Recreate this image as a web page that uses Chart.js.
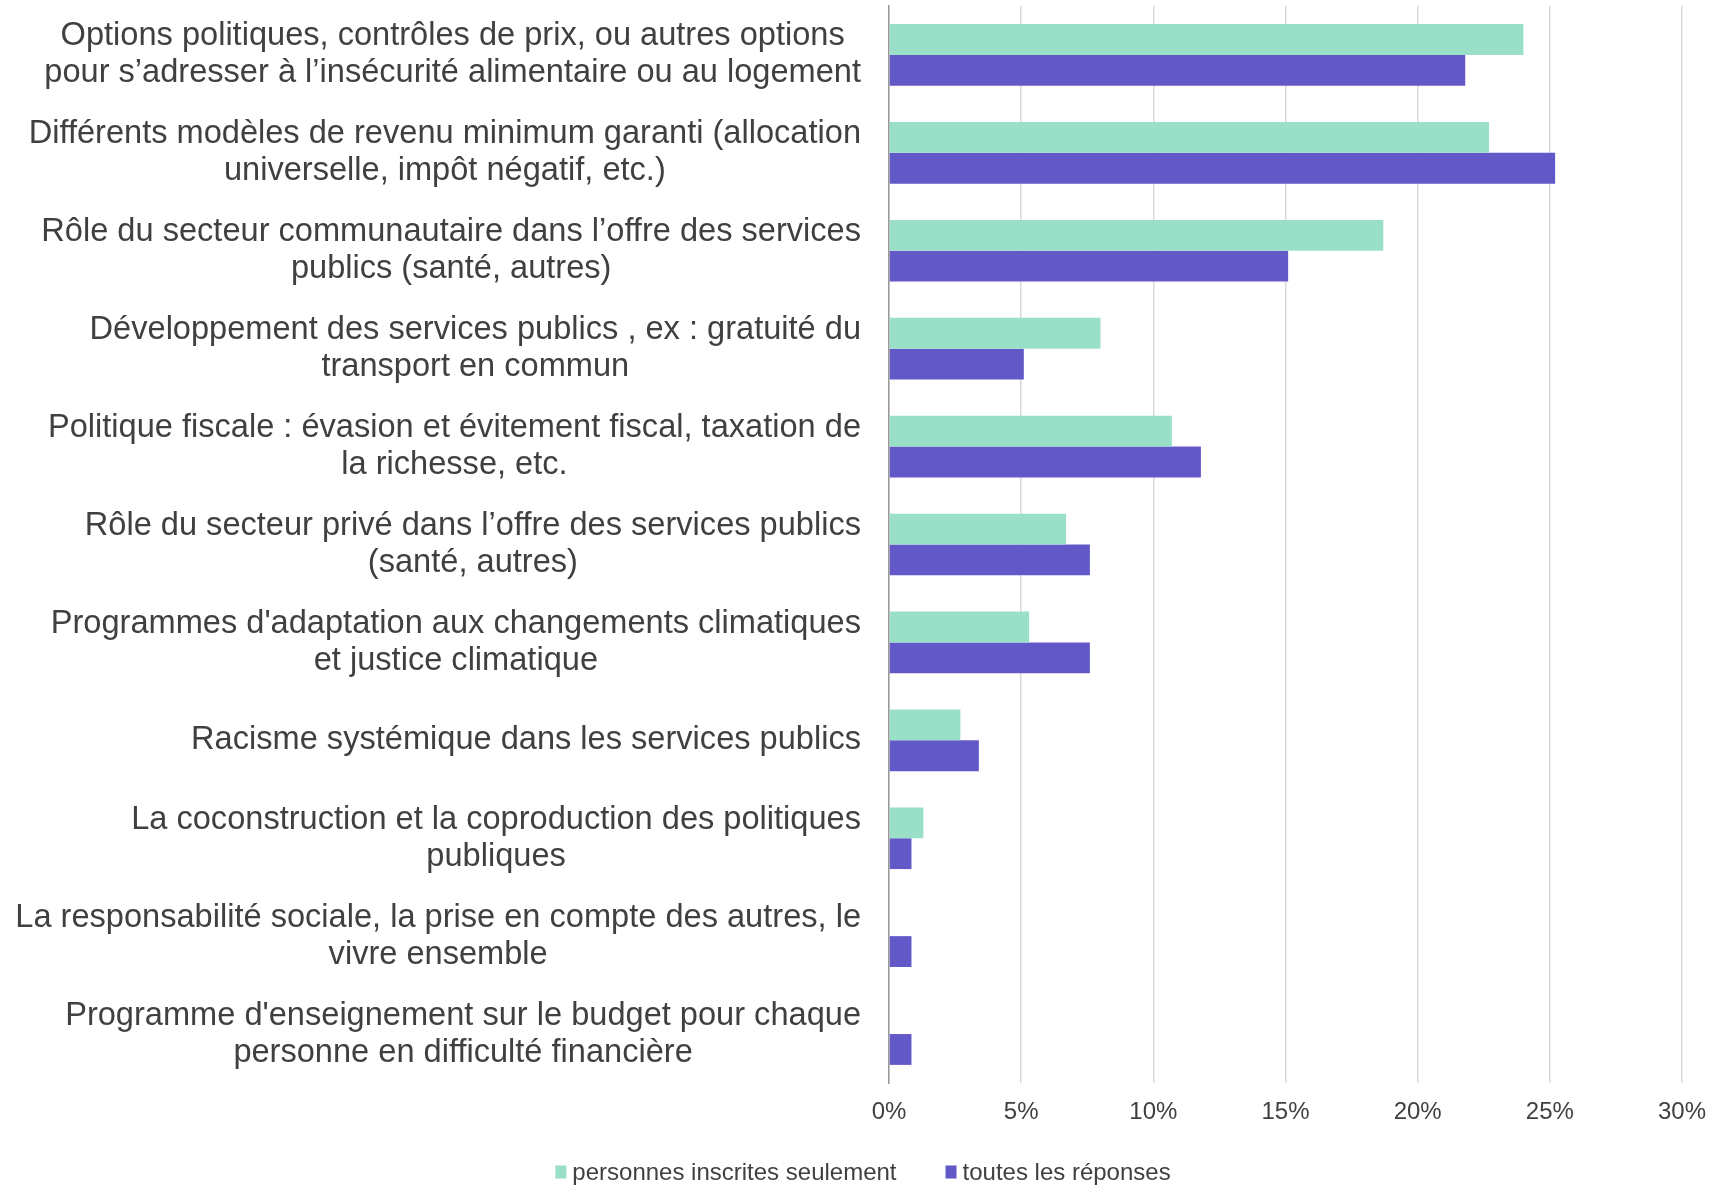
<!DOCTYPE html>
<html lang="fr">
<head>
<meta charset="utf-8">
<title>Priorités</title>
<script src="https://cdn.jsdelivr.net/npm/chart.js@4.4.1/dist/chart.umd.min.js"></script>
<style>
  html, body { margin: 0; padding: 0; background: #fff; }
  #wrap { width: 1736px; height: 1186px; }
</style>
</head>
<body>
<div id="wrap"><canvas id="prioritesChart" width="1736" height="1186"></canvas></div>
<script>
// Catégories (une ligne de texte par élément)
const categories = [
  ["Options politiques, contrôles de prix, ou autres options", "pour s’adresser à l’insécurité alimentaire ou au logement"],
  ["Différents modèles de revenu minimum garanti (allocation", "universelle, impôt négatif, etc.)"],
  ["Rôle du secteur communautaire dans l’offre des services", "publics (santé, autres)"],
  ["Développement des services publics , ex : gratuité du", "transport en commun"],
  ["Politique fiscale : évasion et évitement fiscal, taxation de", "la richesse, etc."],
  ["Rôle du secteur privé dans l’offre des services publics", "(santé, autres)"],
  ["Programmes d'adaptation aux changements climatiques", "et justice climatique"],
  ["Racisme systémique dans les services publics"],
  ["La coconstruction et la coproduction des politiques", "publiques"],
  ["La responsabilité sociale, la prise en compte des autres, le", "vivre ensemble"],
  ["Programme d'enseignement sur le budget pour chaque", "personne en difficulté financière"]
];

// Pourcentages
const inscritesSeulement = [24.0, 22.7, 18.7, 8.0, 10.7, 6.7, 5.3, 2.7, 1.3, 0, 0];
const toutesReponses = [21.8, 25.2, 15.1, 5.1, 11.8, 7.6, 7.6, 3.4, 0.85, 0.85, 0.85];

const seriesLabels = ["personnes inscrites seulement", "toutes les réponses"];
const xTicks = [0, 5, 10, 15, 20, 25, 30];

const GREEN = 'rgb(154, 223, 200)';
const PURPLE = 'rgb(98, 88, 200)';
const TEXT = '#404040';
const FONT = '"Liberation Sans", Arial, Helvetica, sans-serif';

// étiquettes de catégories : bloc aligné à droite, lignes centrées entre elles
const categoryLabels = {
  id: 'categoryLabels',
  afterDraw(chart) {
    const ctx = chart.ctx;
    const yScale = chart.scales.y;
    const right = chart.chartArea.left - 28;
    const lineH = 37;
    ctx.save();
    ctx.font = '32.6px ' + FONT;
    ctx.fillStyle = TEXT;
    ctx.textAlign = 'center';
    ctx.textBaseline = 'middle';
    categories.forEach((lines, i) => {
      const y = yScale.getPixelForValue(i);
      const maxW = Math.max(...lines.map(l => ctx.measureText(l).width));
      const cx = right - maxW / 2;
      const y0 = y - (lines.length - 1) * lineH / 2;
      lines.forEach((l, k) => ctx.fillText(l, cx, y0 + k * lineH));
    });
    ctx.restore();
  }
};

// légende en bas
const bottomLegend = {
  id: 'bottomLegend',
  afterDraw(chart) {
    const ctx = chart.ctx;
    const y = 1172;
    const boxW = 11, boxH = 13, gap = 6, between = 49;
    ctx.save();
    ctx.font = '24px ' + FONT;
    ctx.textBaseline = 'middle';
    ctx.textAlign = 'left';
    const items = chart.data.datasets.map(ds => ({
      text: ds.label,
      color: ds.backgroundColor,
      w: ctx.measureText(ds.label).width
    }));
    const total = items.reduce((s, it) => s + boxW + gap + it.w, 0) + between * (items.length - 1);
    let x = chart.width / 2 - total / 2 - 5;
    items.forEach(it => {
      ctx.fillStyle = it.color;
      ctx.fillRect(x, y - boxH / 2, boxW, boxH);
      x += boxW + gap;
      ctx.fillStyle = TEXT;
      ctx.fillText(it.text, x, y + 1);
      x += it.w + between;
    });
    ctx.restore();
  }
};

function initPrioritesChart() {
  const ctx = document.getElementById('prioritesChart').getContext('2d');

  new Chart(ctx, {
    type: 'bar',
    data: {
      labels: categories.map(c => c.join(' ')),
      datasets: [{
        label: seriesLabels[0],
        data: inscritesSeulement,
        backgroundColor: GREEN,
        borderWidth: 0,
        categoryPercentage: 0.63,
        barPercentage: 1.0
      }, {
        label: seriesLabels[1],
        data: toutesReponses,
        backgroundColor: PURPLE,
        borderWidth: 0,
        categoryPercentage: 0.63,
        barPercentage: 1.0
      }]
    },
    options: {
      indexAxis: 'y',
      responsive: false,
      animation: false,
      layout: {
        padding: { top: 6, right: 54, bottom: 58, left: 0 }
      },
      scales: {
        x: {
          min: 0,
          max: 30,
          afterBuildTicks: (scale) => { scale.ticks = xTicks.map(v => ({ value: v })); },
          afterFit: (scale) => { scale.height = 45; },
          grid: {
            color: '#d9d9d9',
            lineWidth: 1.5,
            drawTicks: false
          },
          border: { display: false },
          ticks: {
            padding: 15,
            color: TEXT,
            font: { family: FONT, size: 24 },
            callback: (v) => v + '%'
          }
        },
        y: {
          afterFit: (scale) => { scale.width = 889; },
          grid: { display: false },
          border: { display: true, color: '#9a9a9a', width: 1.5 },
          ticks: { display: false }
        }
      },
      plugins: {
        legend: { display: false },
        tooltip: { enabled: false }
      }
    },
    plugins: [categoryLabels, bottomLegend]
  });
}

initPrioritesChart();
</script>
</body>
</html>
